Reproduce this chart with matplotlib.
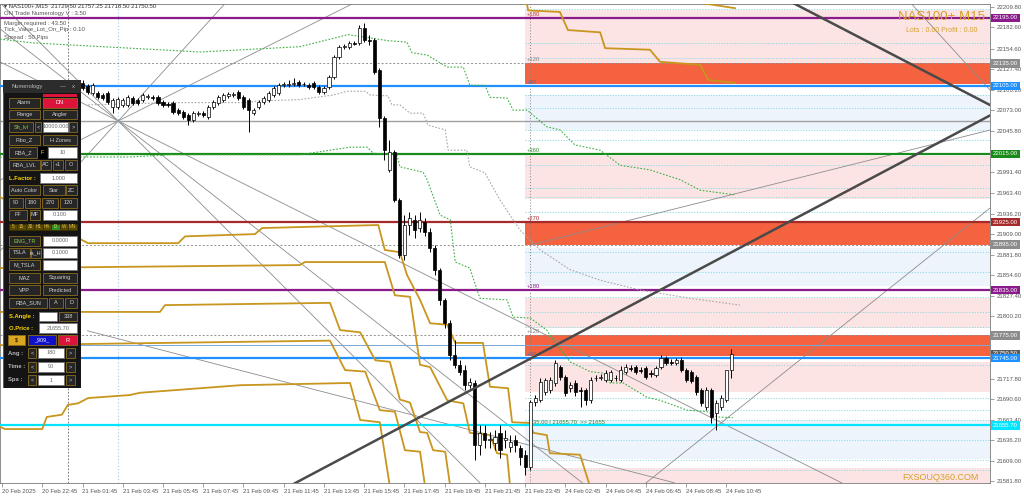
import matplotlib
matplotlib.use("Agg")
import matplotlib.pyplot as plt
from matplotlib.patches import Rectangle

plt.rcParams['font.family'] = ['Liberation Sans', 'DejaVu Sans']

# ---------------- candles (M15 bars, index 16 .. 145) ----------------
first_bar = 16
opens = [22109, 22105, 22096, 22096, 22093, 22096, 22077, 22077, 22080, 22080,
         22089, 22086, 22086, 22090, 22090, 22090, 22084, 22081, 22083, 22073,
         22071, 22067, 22060, 22068, 22069, 22064, 22077, 22083, 22086, 22092,
         22093, 22097, 22090, 22086, 22069, 22077, 22084, 22086, 22093, 22096,
         22106, 22106, 22108, 22110, 22108, 22106, 22109, 22104, 22097, 22104,
         22117, 22143, 22157, 22157, 22162, 22162, 22182, 22166, 22166, 22126,
         22063, 21994, 22018, 21954, 21881, 21921, 21928, 21917, 21925, 21912,
         21891, 21862, 21822, 21791, 21749, 21736, 21729, 21709, 21712, 21630,
         21646, 21637, 21633, 21646, 21637, 21627, 21637, 21626, 21617, 21601,
         21687, 21689, 21700, 21703, 21712, 21733, 21720, 21705, 21712, 21703,
         21703, 21689, 21719, 21719, 21716, 21716, 21719, 21716, 21727, 21732,
         21733, 21729, 21732, 21725, 21723, 21733, 21745, 21740, 21738, 21742,
         21729, 21727, 21720, 21703, 21680, 21703, 21672, 21680, 21689, 21729.5]
highs = [22113, 22108, 22109, 22098, 22096, 22098, 22089, 22090, 22089, 22093,
         22092, 22089, 22096, 22094, 22093, 22093, 22086, 22084, 22085, 22076,
         22073, 22069, 22072, 22072, 22072, 22080, 22086, 22093, 22096, 22097,
         22097, 22100, 22093, 22089, 22076, 22086, 22092, 22098, 22105, 22109,
         22110, 22113, 22116, 22113, 22110, 22109, 22112, 22106, 22105, 22120,
         22146, 22159, 22161, 22165, 22165, 22186, 22188, 22173, 22169, 22129,
         22065, 22034, 22020, 21957, 21934, 21938, 21934, 21938, 21930, 21917,
         21895, 21864, 21824, 21795, 21769, 21742, 21736, 21719, 21716, 21656,
         21656, 21647, 21650, 21656, 21650, 21643, 21643, 21630, 21623, 21689,
         21696, 21719, 21719, 21720, 21742, 21736, 21723, 21713, 21716, 21707,
         21705, 21720, 21723, 21724, 21729, 21729, 21723, 21734, 21737, 21736,
         21736, 21733, 21734, 21729, 21734, 21749, 21748, 21744, 21745, 21746,
         21732, 21729, 21723, 21705, 21707, 21705, 21689, 21696, 21723, 21757.25]
lows = [22100, 22094, 22093, 22088, 22086, 22081, 22069, 22075, 22077, 22077,
        22080, 22080, 22084, 22088, 22086, 22080, 22077, 22077, 22068, 22067,
        22061, 22053, 22057, 22065, 22064, 22061, 22075, 22080, 22084, 22089,
        22090, 22086, 22075, 22044, 22067, 22075, 22081, 22084, 22090, 22093,
        22104, 22104, 22105, 22104, 22105, 22101, 22101, 22094, 22094, 22101,
        22114, 22141, 22154, 22154, 22159, 22159, 22163, 22159, 22121, 22051,
        22007, 21991, 21952, 21877, 21875, 21908, 21904, 21912, 21906, 21885,
        21855, 21815, 21785, 21742, 21732, 21723, 21703, 21705, 21610, 21617,
        21626, 21626, 21623, 21613, 21626, 21621, 21621, 21603, 21590, 21597,
        21682, 21687, 21696, 21699, 21708, 21716, 21695, 21700, 21695, 21680,
        21683, 21685, 21715, 21716, 21713, 21713, 21715, 21713, 21724, 21728,
        21724, 21725, 21717, 21720, 21720, 21730, 21736, 21736, 21736, 21727,
        21713, 21712, 21696, 21682, 21676, 21659, 21650, 21676, 21687, 21718.5]
closes = [22102, 22097, 22106, 22090, 22089, 22084, 22086, 22088, 22086, 22090,
          22083, 22083, 22093, 22092, 22089, 22083, 22080, 22080, 22071, 22069,
          22064, 22060, 22069, 22069, 22067, 22077, 22084, 22090, 22093, 22094,
          22094, 22089, 22077, 22073, 22073, 22084, 22089, 22096, 22102, 22106,
          22107, 22108, 22109, 22106, 22107, 22104, 22104, 22097, 22102, 22117,
          22143, 22157, 22158, 22162, 22161, 22182, 22166, 22165, 22124, 22063,
          22020, 22018, 21954, 21881, 21921, 21930, 21914, 21928, 21912, 21891,
          21862, 21822, 21791, 21749, 21736, 21727, 21709, 21713, 21630, 21646,
          21637, 21638, 21640, 21623, 21639, 21634, 21630, 21614, 21601, 21687,
          21692, 21713, 21716, 21716, 21738, 21720, 21699, 21709, 21700, 21701,
          21689, 21716, 21718, 21720, 21725, 21727, 21718, 21729, 21733, 21731,
          21727, 21728, 21720, 21724, 21732, 21745, 21738, 21739, 21742, 21729,
          21716, 21715, 21700, 21685, 21703, 21667, 21685, 21692, 21729, 21750.5]
bars = list(range(first_bar, first_bar + len(opens)))

# ---------------- axes labels ----------------
time_tick_bars = list(range(0, 145, 8))
time_tick_labels = ["20 Feb 2025", "20 Feb 22:45", "21 Feb 01:45", "21 Feb 03:45",
                    "21 Feb 05:45", "21 Feb 07:45", "21 Feb 09:45", "21 Feb 11:45",
                    "21 Feb 13:45", "21 Feb 15:45", "21 Feb 17:45", "21 Feb 19:45",
                    "21 Feb 21:45", "21 Feb 23:45", "24 Feb 02:45", "24 Feb 04:45",
                    "24 Feb 06:45", "24 Feb 08:45", "24 Feb 10:45"]
price_ticks = [21581.8, 21609.0, 21636.2, 21663.4, 21690.6, 21717.8, 21800.2,
               21827.4, 21854.6, 21881.8, 21909.0, 21936.2, 21963.4, 21991.4,
               22045.8, 22073.0, 22100.2, 22127.4, 22154.6, 22182.6, 22209.8]

# ---------------- horizontal levels ----------------
level_prices = [22195.0, 22105.0, 22015.0, 21925.0, 21835.0, 21745.0, 21655.7]
level_colors = ['#8b1a8b', '#1e90ff', '#1a8a1a', '#a52a2a', '#8b1a8b', '#1e90ff', '#00e5ff']
gray_levels = [22135.0, 21895.0, 21775.0]
bid_price = 21750.5
fan_level = 22058.7
thin_blue_level = 21762.0

deg_texts = ['+180', '+120', '+90', '+360', '+270', '+180', '+120', '+90']
deg_prices = [22195, 22135, 22105, 22015, 21925, 21835, 21775, 21745]
deg_colors = ['#c04040', '#808080', '#4070c0', '#2e8b2e', '#a52a2a', '#8b1a8b', '#808080', '#4070c0']

# zones on the right
zone_start = 104.0
zone_lo = [22133, 22107, 22047, 21955, 21895, 21840, 21785, 21748, 21700, 21611, 21579.6]
zone_hi = [22205, 22135, 22093, 22013, 21925, 21890, 21825, 21775, 21740, 21663, 21600]
zone_kind = ['pink', 'red', 'blue', 'pink', 'red', 'blue', 'pink', 'red', 'pink', 'blue', 'pink']
cyan_levels = [22207, 22162, 22142, 22093, 22076, 22047, 22034, 22000, 21970, 21958,
               21938, 21885, 21859, 21826, 21806, 21786, 21762, 21736, 21692, 21676,
               21663, 21637, 21610, 21597]

# ---------------- step lines ----------------
orange_a_bar = [-0.4, 17.1, 35.0, 36.4, 50.3, 51.7, 74.8, 76.1, 79.1, 80.5, 83.1, 85.1, 88.5,
                90.1, 95.6, 97.0, 100.6, 101.4, 105.0, 105.6, 108.3, 108.9, 114.9, 116.9]
orange_a_price = [21958, 21897, 21897, 21906, 21909, 21917, 21921, 21888, 21885, 21855, 21822,
                  21791, 21789, 21765, 21765, 21707, 21705, 21660, 21659, 21646, 21643, 21619,
                  21617, 21575]
orange_b_bar = [-0.4, 59.2, 60.2, 76.1, 78.1, 81.1, 83.1, 85.1, 88.5, 91.7, 93.0, 97.0, 98.4,
                100.4, 101.0]
orange_b_price = [21864, 21868, 21872, 21872, 21828, 21826, 21736, 21733, 21689, 21685, 21646,
                  21643, 21619, 21617, 21575]
orange_c_bar = [-0.4, 31.4, 32.4, 65.2, 67.2, 71.2, 74.2, 77.1, 79.1, 81.1, 83.1, 84.5, 85.7,
                88.1, 89.1]
orange_c_price = [21806, 21806, 21815, 21818, 21782, 21779, 21742, 21740, 21690, 21686, 21647,
                  21646, 21623, 21621, 21575]
orange_d_bar = [-0.4, 65.2, 68.2, 72.2, 75.1, 78.1, 80.1, 83.1, 84.1]
orange_d_price = [21762, 21768, 21729, 21727, 21676, 21674, 21623, 21621, 21575]
orange_e_bar = [-0.4, 0.6, 8.0, 8.9, 11.9, 13.1, 15.1, 17.1, 25.4, 27.4, 47.3, 69.2, 71.2,
                75.1, 77.1]
orange_e_price = [21654, 21651, 21651, 21667, 21670, 21683, 21685, 21692, 21696, 21699, 21709,
                  21712, 21663, 21660, 21575]
orange_f_bar = [104.0, 104.6, 110.9, 112.5, 118.9, 119.9, 128.8, 130.8, 138.8, 140.4, 145.7]
orange_f_price = [22225, 22205, 22203, 22179, 22176, 22155, 22153, 22137, 22133, 22113, 22109]
orange_g_bar = [136.8, 138.8, 145.7]
orange_g_price = [22225, 22215, 22208]

green_a_bar = [-0.4, 6.2, 39.4, 59.2, 64.6, 68.8, 76.7, 80.5, 81.5, 84.5, 88.5, 91.7, 93.0,
               96.0, 97.0, 100.4, 101.6, 104.4, 108.3, 110.9, 113.9, 118.9, 122.9, 128.8,
               134.8, 138.8, 145.7]
green_a_price = [22167, 22162, 22150, 22157, 22166, 22173, 22165, 22163, 22149, 22146, 22130,
                 22130, 22106, 22106, 22090, 22089, 22073, 22073, 22051, 22047, 22027, 22020,
                 22000, 21994, 21981, 21967, 21961]
green_b_bar = [-0.4, 25.4, 33.4, 59.2, 69.2, 72.6, 73.8, 78.5, 79.1, 83.7, 84.5, 87.1, 89.1,
               90.1, 93.0, 95.0, 100.4, 101.6, 105.0, 108.3, 109.5, 112.9, 116.9, 119.5, 120.9,
               123.5, 128.2, 130.8, 136.2, 140.2, 142.1, 145.3]
green_b_price = [22011, 22011, 22014, 22014, 22024, 22024, 22016, 22014, 21998, 21991, 21981,
                 21934, 21928, 21872, 21864, 21824, 21822, 21799, 21798, 21782, 21769, 21740,
                 21727, 21725, 21712, 21712, 21693, 21689, 21676, 21674, 21667, 21666]
gray_step_bar = [17.1, 34.0, 48.7, 50.7, 59.2, 65.8, 68.6, 72.2, 73.2, 76.7, 77.5, 79.1, 81.1,
                 83.7, 84.7, 88.1, 88.7, 92.4, 93.0, 96.0, 99.0, 103.0, 107.0, 112.9, 118.9,
                 126.8, 136.8, 146.7]
gray_step_price = [22080, 22083, 22083, 22085, 22087, 22093, 22098, 22098, 22093, 22092, 22080,
                   22080, 22069, 22069, 22053, 22047, 22020, 22020, 21998, 21990, 21954, 21914,
                   21888, 21862, 21848, 21835, 21824, 21815]

# ---------------- trend / fan lines ----------------
fan_bar = 23.1
fan_slopes = [-6.66, -5.19, -3.33, 3.33, 7.32]
thick_1_bar, thick_1_price = [57.0, 196.4], [21575.0, 22066.0]
thick_2_bar, thick_2_price = [156.1, 196.4], [22218.8, 22079.8]
thin_lines_bar = [[17.0, 133.6], [128.0, 196.4], [180.1, 196.4], [105.0, 196.4]]
thin_lines_price = [[21781, 21580], [21579.6, 21943.5], [22218.8, 22099.7], [21894.5, 22046.7]]

# ================= drawing =================
fig = plt.figure(figsize=(10.24, 5.0), dpi=100)
fig.patch.set_facecolor('white')
ax = fig.add_axes([0.0, 17 / 500, 990 / 1024, 479 / 500])
x_left, x_right = -0.4, 196.4
ax.set_xlim(x_left, x_right)
ax.set_ylim(21579.6, 22213.5)

zone_fill = {'pink': '#fde4e4', 'red': '#f4623f', 'blue': '#eef4fb'}
for lo, hi, kind in zip(zone_lo, zone_hi, zone_kind):
    ax.fill_between([zone_start, x_right], lo, hi, color=zone_fill[kind], lw=0, zorder=0)
ax.hlines(cyan_levels, zone_start, x_right, colors='#8fdbe6', lw=0.7,
          linestyles=(0, (1.2, 1.6)), zorder=1)

# vertical markers
ax.axvline(105.0, color='#808080', lw=0.7, ls=(0, (1, 2)), zorder=1)
ax.axvline(23.1, color='#9ecae1', lw=0.8, ls=(0, (1, 2)), zorder=1)
ax.axvline(13.1, color='#606060', lw=0.6, ls=(0, (2, 2)), zorder=1)

# fan and trend lines
for s in fan_slopes:
    ax.axline((fan_bar, fan_level), slope=s, color='#8c8c8c', lw=0.6, zorder=2)
for xs, ys in zip(thin_lines_bar, thin_lines_price):
    ax.plot(xs, ys, color='#8c8c8c', lw=0.6, zorder=2)
ax.plot(thick_1_bar, thick_1_price, color='#4a4a4a', lw=1.8, zorder=6)
ax.plot(thick_2_bar, thick_2_price, color='#4a4a4a', lw=1.8, zorder=6)

# horizontal levels
ax.axhline(fan_level, color='#a0a0a0', lw=1.0, zorder=2)
ax.axhline(thin_blue_level, color='#7aa7d6', lw=0.7, zorder=2)
for p in gray_levels:
    ax.axhline(p, color='#909090', lw=0.7, ls=(0, (2, 2)), zorder=2)
for p, c in zip(level_prices, level_colors):
    ax.axhline(p, color=c, lw=1.6, zorder=3)

# step lines
orange = '#c8961e'
for xs, ys in [(orange_a_bar, orange_a_price), (orange_b_bar, orange_b_price),
               (orange_c_bar, orange_c_price), (orange_d_bar, orange_d_price),
               (orange_e_bar, orange_e_price), (orange_f_bar, orange_f_price),
               (orange_g_bar, orange_g_price)]:
    ax.plot(xs, ys, color=orange, lw=1.3, zorder=3)
ax.plot(green_a_bar, green_a_price, color='#3cb043', lw=0.8, ls=(0, (1.5, 1.5)), zorder=3)
ax.plot(green_b_bar, green_b_price, color='#3cb043', lw=0.8, ls=(0, (1.5, 1.5)), zorder=3)
ax.plot(gray_step_bar, gray_step_price, color='#a8a8a8', lw=0.8, ls=(0, (1.5, 1.5)), zorder=3)

# candles
body_bottom = [min(o, c) for o, c in zip(opens, closes)]
body_height = [max(abs(c - o), 0.9) for o, c in zip(opens, closes)]
body_color = ['white' if c >= o else 'black' for o, c in zip(opens, closes)]
ax.vlines(bars, lows, highs, colors='black', lw=0.7, zorder=4)
ax.bar(bars, body_height, bottom=body_bottom, width=0.62, color=body_color,
       edgecolor='black', lw=0.5, zorder=5)

# degree texts and info
for t, p, c in zip(deg_texts, deg_prices, deg_colors):
    ax.text(104.3, p + 1.5, t, fontsize=4.2, color=c, va='bottom', ha='left', zorder=7)
ax.text(105.6, 21657, '35.00 | 21655.70  >> 21655', fontsize=4.2, color='#2e8b2e',
        va='bottom', ha='left', zorder=7)

# axes styling
for sp in ax.spines.values():
    sp.set_color('#7a7a7a')
    sp.set_linewidth(0.6)
ax.yaxis.tick_right()
ax.set_yticks(price_ticks)
ax.set_yticklabels([f"{v:.2f}" for v in price_ticks])
ax.set_xticks(time_tick_bars)
ax.set_xticklabels(time_tick_labels)
for lbl in ax.get_xticklabels():
    lbl.set_ha('left')
ax.tick_params(axis='y', length=3, width=0.5, color='#7a7a7a', labelcolor='#555555',
               labelsize=4.3, pad=2)
ax.tick_params(axis='x', length=3, width=0.5, color='#7a7a7a', labelcolor='#555555',
               labelsize=4.3, pad=1.5)

# right-hand price labels
ytr = ax.get_yaxis_transform()
def price_tag(p, fc, tc='white'):
    ax.text(1.003, p, f"{p:.2f}", transform=ytr, fontsize=4.3, color=tc, va='center',
            ha='left', clip_on=False, zorder=10,
            bbox=dict(boxstyle='square,pad=0.3', fc=fc, ec='none'))
for p in gray_levels:
    price_tag(p, '#8c8c8c')
price_tag(bid_price, '#5c5c5c')
for p, c in zip(level_prices, level_colors):
    price_tag(p, c)

# top texts
def ftext(x, y, s, **kw):
    fig.text(x / 1024, 1 - y / 500, s, va='center', **kw)
ftext(4, 6, "\u25be NAS100+,M15  21729.50 21757.25 21718.50 21750.50", fontsize=4.3, color='#333333')
ftext(4, 14, "ON Trade Numerology V : 3.50", fontsize=4.3, color='#555555')
ftext(4, 23, "Margin required : 43.50", fontsize=4.3, color='#555555')
ftext(4, 30, "Tick_Value_Lot_On_Pip : 0.10", fontsize=4.3, color='#555555')
ftext(4, 38, "Spread : 50 Pips", fontsize=4.3, color='#555555')
ftext(942, 17, "NAS100+ M15", fontsize=9.5, color='#d4a02a', ha='center')
ftext(942, 30, "Lots : 0.00 Profit : 0.00", fontsize=5, color='#d4a02a', ha='center')
ftext(940, 478, "FXSOUQ360.COM", fontsize=6.5, color='#d4a02a', ha='center')

# ---------------- Numerology panel ----------------
pax = fig.add_axes([3 / 1024, 1 - 388 / 500, 78 / 1024, 308 / 500])
pax.set_xlim(3, 81)
pax.set_ylim(388, 80)
pax.axis('off')
pax.add_patch(Rectangle((3, 80), 78, 308, fc='#141414', ec='#5a5a5a', lw=0.8))
pax.add_patch(Rectangle((3, 80), 78, 13, fc='#2c2c2c', ec='none'))
pax.text(12, 86.5, 'Numerology', fontsize=4.2, color='#bbbbbb', va='center')
pax.text(60, 86.5, '\u2014', fontsize=4.2, color='#bbbbbb', va='center')
pax.text(72, 86.5, 'x', fontsize=4.2, color='#bbbbbb', va='center')
pax.add_patch(Rectangle((43, 94), 34, 2.5, fc='#dc143c', ec='none'))

styles = {
    'btn': ('#262626', '#8a6d1c', '#cfcfcf'),
    'grn': ('#262626', '#8a6d1c', '#8fc84a'),
    'red': ('#dc143c', '#8a6d1c', 'white'),
    'wht': ('white', '#777777', '#666666'),
    'gold': ('#daa520', '#8a6d1c', 'black'),
    'blue': ('#1010c8', '#8a6d1c', 'white'),
    'fbox': ('#000000', '#000000', '#ffd700'),
    'tf': ('#5a4a00', '#3a3000', '#e0c060'),
    'tfd': ('#2e8b2e', '#3a3000', '#e0e060'),
    'ylab': (None, None, '#ffd700'),
    'glab': (None, None, '#b8b8b8'),
}
panel_rows = [
    (98, 108, [(9, 40, 'Alarm', 'btn'), (43, 77, 'DN', 'red')]),
    (110, 119, [(9, 40, 'Range', 'btn'), (43, 77, 'Angler', 'btn')]),
    (122, 132, [(9, 33, 'Sh_lvl', 'grn'), (35, 41, '<', 'btn'), (43, 68, '10000.000', 'wht'),
                (69, 77, '>', 'btn')]),
    (135, 145, [(9, 40, 'Fibo_Z', 'btn'), (43, 77, 'H Zones', 'btn')]),
    (147, 158, [(9, 37, 'RBA_Z', 'btn'), (38, 46, 'F', 'fbox'), (48, 77, '10', 'wht')]),
    (160, 170, [(9, 40, 'RBA_LVL', 'btn'), (41, 51, 'AC', 'btn'), (53, 63, '+1', 'btn'),
                (65, 77, 'O', 'btn')]),
    (173, 183, [(9, 37, 'L.Factor :', 'ylab'), (40, 77, '1.000', 'wht')]),
    (185, 195, [(9, 40, 'Auto Color', 'btn'), (43, 65, 'Star', 'btn'), (66, 77, 'ZC', 'btn')]),
    (198, 208, [(9, 23, '90', 'btn'), (25, 40, '180', 'btn'), (42, 58, '270', 'btn'),
                (60, 77, '120', 'btn')]),
    (210, 220, [(9, 27, 'FF', 'btn'), (30, 40, 'MF', 'btn'), (43, 77, '0.100', 'wht')]),
    (224, 230, [(9, 17, '5', 'tf'), (17, 26, '15', 'tf'), (26, 34, '30', 'tf'),
                (34, 43, 'H1', 'tf'), (43, 51, 'H4', 'tf'), (51, 60, 'D', 'tfd'),
                (60, 68, 'W', 'tf'), (68, 77, 'MN', 'tf')]),
    (236, 246, [(9, 40, 'ENG_TR', 'grn'), (43, 77, '0.0000', 'wht')]),
    (248, 258, [(9, 30, 'TSLA', 'btn'), (31, 41, 'ta_H', 'btn'), (43, 77, '0.1000', 'wht')]),
    (260, 270, [(9, 40, 'M_TSLA', 'btn'), (43, 77, '', 'wht')]),
    (273, 283, [(9, 40, 'MAZ', 'btn'), (43, 77, 'Squaring', 'btn')]),
    (285, 295, [(9, 40, 'VPP', 'btn'), (43, 77, 'Predicted', 'btn')]),
    (298, 308, [(9, 47, 'RBA_SUN', 'btn'), (49, 63, 'A', 'btn'), (65, 77, 'D', 'btn')]),
    (312, 321, [(9, 36, 'S.Angle :', 'ylab'), (39, 57, '', 'wht'), (59, 77, '338', 'btn')]),
    (323, 333, [(9, 36, 'O.Price :', 'ylab'), (39, 77, '21655.70', 'wht')]),
    (335, 345, [(8, 25, '$', 'gold'), (28, 56, '_909_', 'blue'), (58, 77, 'R', 'red')]),
    (348, 358, [(8, 26, 'Ang :', 'glab'), (28, 36, '<', 'btn'), (38, 64, '180', 'wht'),
                (66, 75, '>', 'btn')]),
    (362, 372, [(8, 26, 'Time :', 'glab'), (28, 36, '<', 'btn'), (38, 64, '90', 'wht'),
                (66, 75, '>', 'btn')]),
    (375, 385, [(8, 26, 'Spa :', 'glab'), (28, 36, '<', 'btn'), (38, 64, '1', 'wht'),
                (66, 75, '>', 'btn')]),
]
for y0, y1, items in panel_rows:
    for x0, x1, label, st in items:
        fc, ec, tc = styles[st]
        fs = 3.3 if st in ('tf', 'tfd') else 4.0
        if fc is None:
            pax.text(x0, (y0 + y1) / 2, label, fontsize=4.2, color=tc, va='center',
                     ha='left', fontweight='bold')
            continue
        pax.add_patch(Rectangle((x0, y0), x1 - x0, y1 - y0, fc=fc, ec=ec, lw=0.6))
        pax.text((x0 + x1) / 2, (y0 + y1) / 2, label, fontsize=fs, color=tc,
                 va='center', ha='center')

fig.savefig('out.png', dpi=100)
